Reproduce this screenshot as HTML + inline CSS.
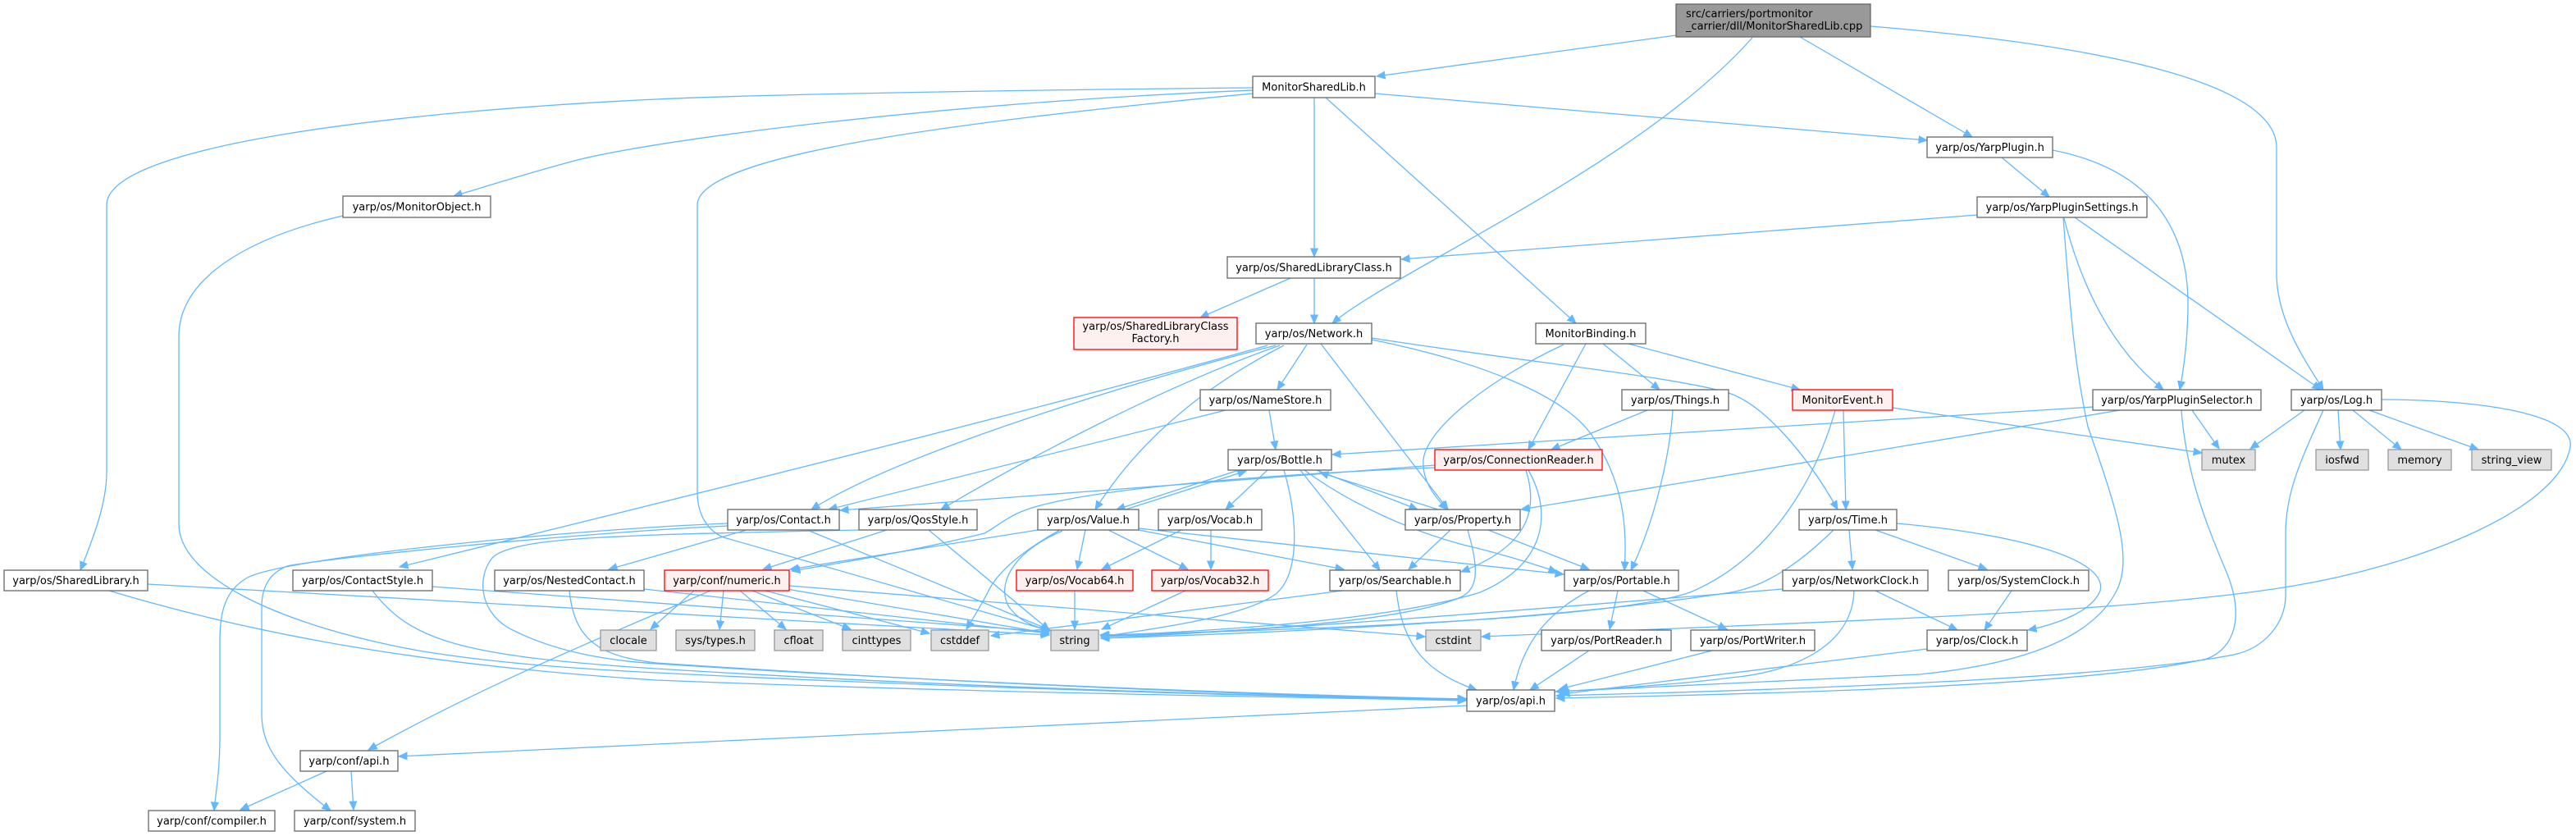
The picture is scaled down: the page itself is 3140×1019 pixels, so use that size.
<!DOCTYPE html>
<html><head><meta charset="utf-8"><style>
html,body{margin:0;padding:0;background:#fff;}
svg{display:block;}
text{font-family:"DejaVu Sans","Liberation Sans",sans-serif;font-size:13px;fill:#000;}
.n{fill:#fff;stroke:#666;stroke-width:1.3;}
.r{fill:#fff0f0;stroke:#ff0000;stroke-width:1.3;}
.g{fill:#e0e0e0;stroke:#999;stroke-width:1.3;}
.m{fill:#999;stroke:#666;stroke-width:1.3;}
.e path{fill:none;stroke:#63b8ff;stroke-width:1.3;marker-end:url(#a);}
</style></head><body>
<svg width="3140" height="1019" viewBox="0 0 3140 1019" xmlns="http://www.w3.org/2000/svg">
<defs><marker id="a" markerUnits="userSpaceOnUse" markerWidth="12" markerHeight="10" refX="10.5" refY="5" orient="auto"><path d="M0,0.5 L10.5,5 L0,9.5 z" fill="#63b8ff" stroke="#63b8ff" stroke-width="1"/></marker></defs>
<rect width="3140" height="1019" fill="#fff"/>
<g class="e">
<path d="M2043,43 L1678,93"/>
<path d="M2136,46 C2000,200 1700,330 1624,394"/>
<path d="M2194,45 L2404,167"/>
<path d="M2280,32 C2560,55 2775,100 2775,180 L2775,333 C2775,390 2810,440 2832,475"/>
<path d="M1527,107 C1200,110 900,116 800,121 C500,135 130,175 130,250 L130,576 C130,615 112,660 98,695"/>
<path d="M1527,110 C1150,125 800,170 700,196 C640,212 590,228 553,239"/>
<path d="M1527,114 C1150,150 850,190 850,250 L850,600 C850,630 865,648 882,655 L1280,769"/>
<path d="M1676,114 L2349,171"/>
<path d="M1602,119 L1602,313"/>
<path d="M1616,119 L1921,394"/>
<path d="M2440,192 L2498,240"/>
<path d="M2502,183 C2640,210 2667,300 2667,370 C2667,410 2662,450 2657,475"/>
<path d="M2410,262 L1708,316"/>
<path d="M2516,266 C2540,360 2580,430 2637,475"/>
<path d="M2529,265 L2829,475"/>
<path d="M2515,265 C2525,400 2530,450 2545,520 C2580,620 2600,680 2580,720 C2550,780 2460,810 2340,822 C2150,832 2000,838 1896,843"/>
<path d="M2809,500 L2743,547"/>
<path d="M2850,500 L2853,548"/>
<path d="M2868,500 L2927,548"/>
<path d="M2888,500 L3021,548"/>
<path d="M2832,500 C2805,560 2786,600 2786,650 L2786,726 C2786,760 2760,790 2723,798 C2600,822 2300,838 1897,848"/>
<path d="M2903,487 C3000,487 3140,500 3133,545 C3120,620 2950,690 2784,716 C2600,745 2300,755 1806,776"/>
<path d="M2672,500 L2705,547"/>
<path d="M2551,496 L1624,554"/>
<path d="M2584,500 L1854,621"/>
<path d="M2659,500 C2665,580 2690,640 2715,700 C2735,750 2725,790 2690,803 C2550,835 2200,845 1897,851"/>
<path d="M2307,497 L2684,552"/>
<path d="M2247,500 L2250,621"/>
<path d="M2237,500 C2215,580 2160,680 2060,722 C1980,750 1700,765 1341,774"/>
<path d="M1954,419 L2023,475"/>
<path d="M1985,419 L2194,475"/>
<path d="M1933,419 L1863,548"/>
<path d="M1906,420 C1820,460 1740,520 1735,560 C1733,585 1748,605 1764,621"/>
<path d="M2008,500 L1891,548"/>
<path d="M2039,500 C2035,560 2015,640 1988,695"/>
<path d="M1610,419 L1765,621"/>
<path d="M1672,414 C1800,440 1905,480 1940,530 C1978,585 1984,640 1980,695"/>
<path d="M1672,412 C1850,440 2050,460 2110,480 C2150,495 2200,550 2240,621"/>
<path d="M1593,420 L1557,475"/>
<path d="M1545,421 C1300,490 900,590 487,691"/>
<path d="M1555,421 C1400,460 1100,550 989,621"/>
<path d="M1560,421 C1420,470 1250,560 1147,621"/>
<path d="M1565,421 C1450,480 1380,550 1335,621"/>
<path d="M1494,500 L1010,621"/>
<path d="M1547,500 L1555,548"/>
<path d="M1573,339 L1463,387"/>
<path d="M1602,339 L1602,394"/>
<path d="M1510,573 L1361,621"/>
<path d="M1372,621 L1519,574"/>
<path d="M1545,573 L1494,621"/>
<path d="M1565,573 C1582,630 1585,700 1555,724 C1520,750 1420,765 1342,776"/>
<path d="M1605,573 L1728,621"/>
<path d="M1753,621 L1609,576"/>
<path d="M1585,573 L1682,695"/>
<path d="M1590,573 C1640,610 1720,650 1800,668 C1840,678 1870,688 1898,697"/>
<path d="M1388,644 L1906,700"/>
<path d="M1388,646 L1638,694"/>
<path d="M1265,646 L963,694"/>
<path d="M1323,646 L1313,694"/>
<path d="M1351,646 L1448,694"/>
<path d="M1292,646 C1240,675 1215,700 1205,720 C1195,740 1185,755 1178,767"/>
<path d="M1295,647 C1230,675 1215,715 1230,740 C1245,760 1265,765 1280,768"/>
<path d="M1440,646 L1343,694"/>
<path d="M1476,646 L1476,694"/>
<path d="M1310,720 L1310,767"/>
<path d="M1445,720 L1343,767"/>
<path d="M910,646 L742,694"/>
<path d="M984,646 L1280,768"/>
<path d="M887,638 C700,645 340,680 300,705 C275,720 268,745 268,780 L268,900 C268,940 263,965 261,988"/>
<path d="M887,641 C700,650 400,680 350,690 C325,700 319,720 319,740 L319,870 C319,910 340,940 403,988"/>
<path d="M1047,646 C950,648 850,650 800,652 C700,656 620,660 600,680 C580,705 585,750 627,769 C680,795 740,805 800,809 C1200,835 1600,848 1788,852"/>
<path d="M1081,646 L930,694"/>
<path d="M1132,646 L1279,768"/>
<path d="M1749,567 L1024,622"/>
<path d="M1749,570 C1500,580 1300,600 1244,624 C1225,632 1215,642 1200,650 C1100,675 1000,690 965,696"/>
<path d="M1860,573 C1875,620 1865,665 1781,697"/>
<path d="M1863,573 C1895,630 1880,690 1804,722 C1700,755 1500,768 1342,775"/>
<path d="M1768,646 L1717,694"/>
<path d="M1814,646 L1937,694"/>
<path d="M1789,646 C1805,700 1800,720 1778,729 C1700,760 1500,770 1342,776"/>
<path d="M2254,646 L2258,694"/>
<path d="M2286,646 L2422,694"/>
<path d="M2312,638 C2450,650 2570,680 2560,720 C2550,745 2510,760 2472,768"/>
<path d="M2235,646 C2190,690 2150,715 2110,722 C1900,755 1600,770 1342,778"/>
<path d="M2286,720 L2386,768"/>
<path d="M2260,720 C2258,790 2180,820 2110,826 C2040,835 1950,840 1897,843"/>
<path d="M2173,718 C1900,740 1600,765 1342,778"/>
<path d="M2452,720 L2419,768"/>
<path d="M2349,791 L1903,846"/>
<path d="M1972,720 L1962,767"/>
<path d="M2003,720 L2105,767"/>
<path d="M1937,720 C1880,750 1855,790 1845,841"/>
<path d="M1937,793 L1865,841"/>
<path d="M2087,793 L1901,840"/>
<path d="M1702,720 C1710,790 1740,820 1800,841"/>
<path d="M1636,720 L1208,775"/>
<path d="M846,720 L793,767"/>
<path d="M882,720 L877,767"/>
<path d="M902,720 L958,767"/>
<path d="M917,720 L1037,767"/>
<path d="M933,720 L1133,772"/>
<path d="M953,717 L1279,772"/>
<path d="M962,714 L1737,776"/>
<path d="M866,720 C750,770 600,830 449,914"/>
<path d="M1788,860 L486,922"/>
<path d="M398,940 L293,987"/>
<path d="M428,940 L431,987"/>
<path d="M133,720 C300,770 500,810 800,829 C1200,845 1600,850 1787,854"/>
<path d="M180,712 L1279,774"/>
<path d="M418,263 C300,290 218,340 218,410 L218,639 C218,700 330,760 510,793 C600,808 700,815 800,820 C1200,840 1600,850 1787,853"/>
<path d="M454,720 C500,780 560,800 800,815 C1200,840 1600,850 1787,852"/>
<path d="M527,715 L1279,770"/>
<path d="M694,720 C700,780 730,800 800,808 C1200,835 1600,850 1787,852"/>
<path d="M785,718 L1279,772"/>
</g>
<g>
<rect class="m" x="2043" y="5" width="237" height="40"/>
<text x="2055" y="21">src/carriers/portmonitor</text>
<text x="2055" y="36">_carrier/dll/MonitorSharedLib.cpp</text>

<rect class="n" x="1527" y="93" width="149" height="26"/><text x="1601.5" y="110.5" text-anchor="middle">MonitorSharedLib.h</text>
<rect class="n" x="2349" y="167" width="153" height="25"/><text x="2425.5" y="184" text-anchor="middle">yarp/os/YarpPlugin.h</text>
<rect class="n" x="418" y="239" width="180" height="26"/><text x="508" y="256.5" text-anchor="middle">yarp/os/MonitorObject.h</text>
<rect class="n" x="2410" y="240" width="207" height="25"/><text x="2513.5" y="257" text-anchor="middle">yarp/os/YarpPluginSettings.h</text>
<rect class="n" x="1496" y="313" width="211" height="26"/><text x="1601.5" y="330.5" text-anchor="middle">yarp/os/SharedLibraryClass.h</text>
<rect class="r" x="1309" y="387" width="199" height="39"/><text x="1408.5" y="402" text-anchor="middle">yarp/os/SharedLibraryClass</text><text x="1408.5" y="417" text-anchor="middle">Factory.h</text>
<rect class="n" x="1531" y="394" width="141" height="25"/><text x="1601.5" y="411" text-anchor="middle">yarp/os/Network.h</text>
<rect class="n" x="1872" y="394" width="134" height="25"/><text x="1939" y="411" text-anchor="middle">MonitorBinding.h</text>
<rect class="n" x="1463" y="475" width="159" height="25"/><text x="1542.5" y="492" text-anchor="middle">yarp/os/NameStore.h</text>
<rect class="n" x="1977" y="475" width="130" height="25"/><text x="2042" y="492" text-anchor="middle">yarp/os/Things.h</text>
<rect class="r" x="2185" y="475" width="122" height="25"/><text x="2246" y="492" text-anchor="middle">MonitorEvent.h</text>
<rect class="n" x="2551" y="475" width="205" height="25"/><text x="2653.5" y="492" text-anchor="middle">yarp/os/YarpPluginSelector.h</text>
<rect class="n" x="2793" y="475" width="110" height="25"/><text x="2848" y="492" text-anchor="middle">yarp/os/Log.h</text>

<rect class="n" x="1497" y="548" width="126" height="25"/><text x="1560" y="565" text-anchor="middle">yarp/os/Bottle.h</text>
<rect class="r" x="1749" y="548" width="204" height="25"/><text x="1851" y="565" text-anchor="middle">yarp/os/ConnectionReader.h</text>
<rect class="g" x="2684" y="548" width="65" height="25"/><text x="2716.5" y="565" text-anchor="middle">mutex</text>
<rect class="g" x="2823" y="548" width="64" height="25"/><text x="2855" y="565" text-anchor="middle">iosfwd</text>
<rect class="g" x="2911" y="548" width="77" height="25"/><text x="2949.5" y="565" text-anchor="middle">memory</text>
<rect class="g" x="3013" y="548" width="97" height="25"/><text x="3061.5" y="565" text-anchor="middle">string_view</text>

<rect class="n" x="887" y="621" width="136" height="25"/><text x="955" y="638" text-anchor="middle">yarp/os/Contact.h</text>
<rect class="n" x="1047" y="621" width="144" height="25"/><text x="1119" y="638" text-anchor="middle">yarp/os/QosStyle.h</text>
<rect class="n" x="1265" y="621" width="123" height="25"/><text x="1326.5" y="638" text-anchor="middle">yarp/os/Value.h</text>
<rect class="n" x="1412" y="621" width="126" height="25"/><text x="1475" y="638" text-anchor="middle">yarp/os/Vocab.h</text>
<rect class="n" x="1713" y="621" width="140" height="25"/><text x="1783" y="638" text-anchor="middle">yarp/os/Property.h</text>
<rect class="n" x="2193" y="621" width="119" height="25"/><text x="2252.5" y="638" text-anchor="middle">yarp/os/Time.h</text>

<rect class="n" x="5" y="695" width="175" height="25"/><text x="92.5" y="712" text-anchor="middle">yarp/os/SharedLibrary.h</text>
<rect class="n" x="357" y="695" width="170" height="25"/><text x="442" y="712" text-anchor="middle">yarp/os/ContactStyle.h</text>
<rect class="n" x="603" y="695" width="182" height="25"/><text x="694" y="712" text-anchor="middle">yarp/os/NestedContact.h</text>
<rect class="r" x="810" y="695" width="152" height="25"/><text x="886" y="712" text-anchor="middle">yarp/conf/numeric.h</text>
<rect class="r" x="1239" y="695" width="142" height="25"/><text x="1310" y="712" text-anchor="middle">yarp/os/Vocab64.h</text>
<rect class="r" x="1404" y="695" width="142" height="25"/><text x="1475" y="712" text-anchor="middle">yarp/os/Vocab32.h</text>
<rect class="n" x="1621" y="695" width="159" height="25"/><text x="1700.5" y="712" text-anchor="middle">yarp/os/Searchable.h</text>
<rect class="n" x="1907" y="695" width="139" height="25"/><text x="1976.5" y="712" text-anchor="middle">yarp/os/Portable.h</text>
<rect class="n" x="2173" y="695" width="177" height="25"/><text x="2261.5" y="712" text-anchor="middle">yarp/os/NetworkClock.h</text>
<rect class="n" x="2375" y="695" width="171" height="25"/><text x="2460.5" y="712" text-anchor="middle">yarp/os/SystemClock.h</text>

<rect class="g" x="732" y="768" width="68" height="25"/><text x="766" y="785" text-anchor="middle">clocale</text>
<rect class="g" x="824" y="768" width="96" height="25"/><text x="872" y="785" text-anchor="middle">sys/types.h</text>
<rect class="g" x="944" y="768" width="59" height="25"/><text x="973.5" y="785" text-anchor="middle">cfloat</text>
<rect class="g" x="1027" y="768" width="83" height="25"/><text x="1068.5" y="785" text-anchor="middle">cinttypes</text>
<rect class="g" x="1135" y="768" width="70" height="25"/><text x="1170" y="785" text-anchor="middle">cstddef</text>
<rect class="g" x="1281" y="768" width="58" height="25"/><text x="1310" y="785" text-anchor="middle">string</text>
<rect class="g" x="1738" y="768" width="67" height="25"/><text x="1771.5" y="785" text-anchor="middle">cstdint</text>
<rect class="n" x="1879" y="768" width="158" height="25"/><text x="1958" y="785" text-anchor="middle">yarp/os/PortReader.h</text>
<rect class="n" x="2061" y="768" width="151" height="25"/><text x="2136.5" y="785" text-anchor="middle">yarp/os/PortWriter.h</text>
<rect class="n" x="2349" y="768" width="122" height="25"/><text x="2410" y="785" text-anchor="middle">yarp/os/Clock.h</text>

<rect class="n" x="1788" y="841" width="107" height="26"/><text x="1841.5" y="858.5" text-anchor="middle">yarp/os/api.h</text>
<rect class="n" x="366" y="915" width="119" height="25"/><text x="425.5" y="932" text-anchor="middle">yarp/conf/api.h</text>
<rect class="n" x="181" y="988" width="154" height="25"/><text x="258" y="1005" text-anchor="middle">yarp/conf/compiler.h</text>
<rect class="n" x="359" y="988" width="147" height="25"/><text x="432.5" y="1005" text-anchor="middle">yarp/conf/system.h</text>
</g>
</svg>
</body></html>
